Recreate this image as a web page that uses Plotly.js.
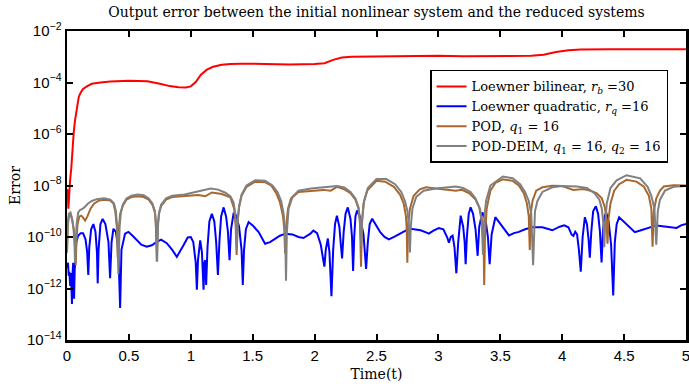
<!DOCTYPE html>
<html>
<head>
<meta charset="utf-8">
<script src="https://cdn.plot.ly/plotly-3.0.1.min.js"></script>
<style>html,body{margin:0;padding:0;background:#fff}#chart{width:689px;height:388px}</style>
</head>
<body>
<div id="chart"></div>
<script>
// Values; errors are stored as log10 exponents.
var redT = [0,0.006,0.011,0.016,0.025,0.035,0.045,0.055,0.065,0.08,0.095,0.11,0.13,0.16,0.2,0.27,0.35,0.5,0.65,0.75,0.83,0.9,0.96,1.0,1.04,1.08,1.13,1.18,1.25,1.32,1.4,1.6,1.8,2.0,2.08,2.15,2.22,2.3,2.6,2.9,3.0,3.2,3.5,3.75,3.85,3.95,4.05,4.15,4.4,4.7,5.0];
var redExp = [-8.15,-8.2,-8.9,-8.3,-7.8,-7.3,-6.5,-5.9,-5.46,-4.9,-4.56,-4.4,-4.25,-4.15,-4.05,-4.0,-3.96,-3.93,-3.95,-4.05,-4.14,-4.18,-4.19,-4.15,-3.98,-3.71,-3.5,-3.39,-3.31,-3.28,-3.27,-3.28,-3.3,-3.28,-3.25,-3.12,-3.03,-3.0,-2.98,-2.98,-2.96,-2.98,-2.97,-2.96,-2.92,-2.82,-2.75,-2.72,-2.71,-2.70,-2.71];

var blueT = [0,0.008,0.014,0.019,0.026,0.03,0.036,0.04,0.045,0.05,0.054,0.057,0.062,0.068,0.075,0.09,0.11,0.13,0.15,0.163,0.172,0.18,0.195,0.213,0.23,0.242,0.248,0.255,0.27,0.288,0.31,0.335,0.348,0.36,0.375,0.395,0.415,0.429,0.44,0.469,0.496,0.53,0.563,0.6,0.644,0.685,0.725,0.76,0.806,0.85,0.887,0.91,0.941,0.975,1.0,1.02,1.04,1.049,1.058,1.076,1.09,1.103,1.11,1.117,1.124,1.135,1.15,1.17,1.19,1.205,1.219,1.232,1.245,1.265,1.285,1.3,1.313,1.325,1.345,1.365,1.39,1.41,1.42,1.43,1.445,1.467,1.5,1.548,1.6,1.64,1.683,1.72,1.764,1.82,1.87,1.91,1.966,1.99,2.02,2.05,2.07,2.079,2.09,2.107,2.12,2.136,2.15,2.165,2.18,2.2,2.212,2.222,2.235,2.25,2.268,2.29,2.302,2.311,2.32,2.33,2.343,2.365,2.395,2.408,2.416,2.43,2.445,2.465,2.5,2.53,2.565,2.6,2.65,2.69,2.735,2.775,2.82,2.856,2.9,2.923,2.96,3.004,3.04,3.07,3.085,3.1,3.115,3.13,3.145,3.16,3.18,3.2,3.212,3.22,3.23,3.245,3.26,3.28,3.3,3.317,3.33,3.355,3.38,3.4,3.414,3.43,3.46,3.5,3.57,3.61,3.65,3.7,3.76,3.84,3.92,3.98,4.016,4.05,4.075,4.09,4.105,4.12,4.135,4.15,4.165,4.183,4.2,4.213,4.223,4.235,4.25,4.272,4.29,4.305,4.318,4.33,4.345,4.358,4.375,4.395,4.412,4.425,4.44,4.46,4.52,4.587,4.63,4.68,4.76,4.843,4.924,4.96,5.0];
var blueExp = [-11.2,-11.0,-11.5,-11.35,-11.9,-11.4,-12.0,-12.6,-11.4,-11.0,-11.6,-12.4,-11.3,-10.6,-10.2,-9.95,-9.85,-9.85,-10.1,-10.6,-11.47,-10.4,-9.7,-9.5,-9.8,-10.6,-11.8,-10.5,-9.5,-9.3,-9.5,-10.2,-11.6,-10.2,-9.68,-9.8,-10.5,-12.76,-10.5,-9.87,-9.8,-9.95,-10.13,-10.3,-10.38,-10.32,-10.19,-10.1,-10.24,-10.5,-10.77,-10.6,-10.32,-10.02,-10.0,-10.2,-11.0,-12.05,-10.9,-10.13,-10.6,-12.05,-11.0,-10.9,-11.86,-10.4,-9.4,-9.1,-9.4,-10.2,-11.47,-10.1,-9.2,-8.85,-9.2,-9.8,-10.9,-9.7,-9.1,-9.15,-9.6,-10.5,-11.86,-10.5,-9.7,-9.42,-9.55,-9.81,-10.26,-10.2,-10.06,-9.95,-9.87,-9.9,-10.0,-10.04,-9.87,-9.75,-9.85,-10.3,-10.9,-11.15,-10.5,-10.06,-10.6,-12.3,-10.5,-9.5,-9.17,-9.6,-10.3,-10.83,-9.8,-9.1,-8.85,-9.3,-10.0,-11.32,-10.0,-9.2,-8.97,-9.2,-9.9,-10.6,-11.24,-10.2,-9.5,-9.29,-9.55,-9.81,-10.0,-10.09,-9.98,-9.87,-9.75,-9.68,-9.7,-9.74,-9.82,-9.87,-9.75,-9.65,-9.7,-10.0,-10.22,-10.0,-9.95,-10.4,-11.41,-10.2,-9.17,-9.6,-10.2,-11.06,-10.0,-9.1,-8.85,-9.1,-9.7,-10.73,-9.6,-9.05,-9.3,-10.0,-11.06,-9.9,-9.23,-9.5,-9.94,-9.85,-9.8,-9.7,-9.62,-9.62,-9.74,-9.6,-9.55,-9.62,-9.9,-9.96,-9.8,-9.9,-10.5,-11.35,-10.0,-9.23,-9.5,-10.1,-10.8,-9.8,-9.0,-8.81,-9.1,-9.8,-10.99,-9.7,-9.15,-9.1,-9.4,-10.3,-12.27,-10.2,-9.5,-9.23,-9.5,-9.81,-9.75,-9.68,-9.55,-9.6,-9.65,-9.55,-9.49];

var podT = [0,0.006,0.015,0.028,0.042,0.055,0.063,0.07,0.076,0.085,0.1,0.115,0.13,0.146,0.165,0.19,0.22,0.26,0.3,0.35,0.375,0.39,0.402,0.41,0.42,0.43,0.45,0.48,0.52,0.57,0.62,0.66,0.69,0.71,0.718,0.725,0.732,0.742,0.76,0.8,0.85,0.95,1.06,1.117,1.17,1.25,1.32,1.35,1.362,1.37,1.378,1.39,1.41,1.45,1.52,1.6,1.65,1.69,1.72,1.745,1.755,1.762,1.77,1.785,1.81,1.87,1.97,2.07,2.13,2.18,2.24,2.29,2.33,2.355,2.367,2.375,2.383,2.395,2.425,2.5,2.57,2.64,2.69,2.72,2.738,2.744,2.749,2.755,2.77,2.8,2.85,2.9,2.98,3.085,3.14,3.19,3.25,3.3,3.335,3.355,3.365,3.37,3.376,3.39,3.42,3.46,3.52,3.6,3.65,3.69,3.715,3.73,3.738,3.746,3.76,3.79,3.84,3.92,4.0,4.09,4.17,4.23,4.28,4.32,4.345,4.358,4.366,4.374,4.39,4.42,4.46,4.52,4.6,4.66,4.7,4.72,4.73,4.74,4.76,4.79,4.82,4.9,5.0];
var podExp = [-10.6,-9.6,-9.2,-9.1,-9.35,-9.7,-10.2,-11.1,-10.2,-9.5,-9.2,-9.17,-9.25,-9.36,-9.2,-8.9,-8.7,-8.58,-8.55,-8.58,-8.7,-9.0,-9.6,-10.8,-9.6,-9.1,-8.8,-8.55,-8.45,-8.42,-8.45,-8.55,-8.75,-9.05,-9.6,-10.95,-9.6,-9.1,-8.8,-8.55,-8.45,-8.42,-8.37,-8.42,-8.27,-8.33,-8.46,-8.9,-9.5,-10.7,-9.4,-8.85,-8.4,-8.05,-7.85,-7.87,-8.0,-8.3,-8.65,-9.2,-9.7,-10.64,-9.6,-8.9,-8.5,-8.25,-8.2,-8.17,-8.2,-8.05,-8.15,-8.3,-8.55,-8.9,-9.5,-11.15,-9.4,-8.7,-8.2,-7.82,-7.85,-8.05,-8.35,-8.7,-9.2,-9.7,-11.0,-9.6,-8.9,-8.4,-8.15,-8.07,-8.12,-8.17,-8.2,-8.17,-8.3,-8.55,-8.9,-9.4,-10.2,-11.86,-10.0,-8.9,-8.2,-7.9,-7.76,-7.82,-8.0,-8.3,-8.7,-9.2,-10.5,-9.1,-8.6,-8.2,-8.07,-8.01,-8.02,-8.17,-8.14,-8.2,-8.3,-8.5,-8.85,-9.4,-10.26,-9.3,-8.7,-8.2,-7.95,-7.78,-7.85,-8.05,-8.4,-8.9,-10.38,-9.0,-8.5,-8.2,-8.04,-7.99,-8.0];

var deimT = [0,0.006,0.015,0.028,0.042,0.053,0.06,0.065,0.07,0.078,0.09,0.105,0.12,0.14,0.17,0.2,0.24,0.3,0.35,0.38,0.395,0.405,0.415,0.425,0.435,0.45,0.48,0.52,0.57,0.62,0.66,0.69,0.71,0.72,0.728,0.736,0.745,0.76,0.8,0.85,0.95,1.06,1.16,1.22,1.28,1.32,1.345,1.36,1.372,1.38,1.39,1.41,1.45,1.52,1.6,1.66,1.7,1.73,1.75,1.762,1.769,1.776,1.79,1.82,1.87,1.97,2.07,2.18,2.24,2.29,2.33,2.355,2.368,2.376,2.385,2.4,2.43,2.5,2.58,2.65,2.7,2.73,2.75,2.763,2.77,2.777,2.79,2.82,2.88,2.98,3.08,3.14,3.2,3.26,3.3,3.33,3.35,3.36,3.37,3.385,3.42,3.52,3.6,3.66,3.7,3.73,3.75,3.765,3.78,3.8,3.84,3.92,4.0,4.12,4.2,4.26,4.3,4.32,4.333,4.34,4.348,4.36,4.39,4.44,4.52,4.63,4.69,4.72,4.745,4.76,4.772,4.79,4.83,4.9,5.0];
var deimExp = [-10.6,-9.5,-9.1,-9.05,-9.3,-9.7,-10.2,-11.0,-10.2,-9.5,-9.05,-8.95,-8.92,-8.85,-8.7,-8.6,-8.53,-8.5,-8.55,-8.7,-9.0,-9.6,-11.45,-9.6,-9.05,-8.75,-8.5,-8.4,-8.35,-8.38,-8.5,-8.7,-9.0,-9.5,-10.95,-9.5,-9.05,-8.75,-8.5,-8.4,-8.35,-8.22,-8.12,-8.16,-8.28,-8.42,-8.65,-9.1,-10.5,-9.3,-8.8,-8.35,-8.0,-7.8,-7.82,-8.0,-8.25,-8.6,-9.1,-9.8,-11.7,-9.8,-8.9,-8.45,-8.2,-8.12,-8.08,-8.02,-8.08,-8.25,-8.5,-8.85,-9.4,-10.35,-9.3,-8.6,-8.1,-7.75,-7.75,-7.95,-8.25,-8.6,-9.0,-9.6,-10.6,-9.6,-8.9,-8.45,-8.2,-8.12,-8.07,-8.04,-8.1,-8.25,-8.5,-8.85,-9.4,-10.7,-9.3,-8.6,-8.0,-7.65,-7.72,-7.95,-8.25,-8.6,-9.1,-11.1,-9.0,-8.6,-8.25,-8.07,-8.02,-8.04,-8.1,-8.3,-8.55,-8.9,-9.5,-10.4,-9.4,-8.7,-8.1,-7.8,-7.6,-7.72,-8.05,-8.4,-8.9,-10.3,-9.0,-8.55,-8.2,-8.05,-8.02];

var seriesNames = [
  'Loewner bilinear, <i>r</i><sub><i>b</i></sub> =30',
  'Loewner quadratic, <i>r</i><sub><i>q</i></sub> =16',
  'POD, <i>q</i><sub>1</sub> = 16',
  'POD-DEIM, <i>q</i><sub>1</sub> = 16, <i>q</i><sub>2</sub> = 16'
];
var seriesColors = ['#ff0000', '#0000ff', '#a8672c', '#808080'];

var xTickVals = [0,0.5,1,1.5,2,2.5,3,3.5,4,4.5,5];
var yTickExp = [-14,-12,-10,-8,-6,-4,-2];

function toVal(a){ return a.map(function(e){ return Math.pow(10, e); }); }

var serif = 'DejaVu Serif, serif';
var sans = 'Liberation Sans, Arial, sans-serif';

function tr(x, e, i){
  return {x: x, y: toVal(e), type: 'scatter', mode: 'lines', name: seriesNames[i],
          line: {color: seriesColors[i], width: 2}};
}
// plotting order as in the original: red, blue, POD, POD-DEIM (on top)
var data = [tr(redT, redExp, 0), tr(blueT, blueExp, 1), tr(podT, podExp, 2), tr(deimT, deimExp, 3)];

var layout = {
  width: 689, height: 388,
  margin: {l: 67, r: 3, t: 31, b: 48},
  paper_bgcolor: '#fff', plot_bgcolor: '#fff',
  showlegend: true,
  title: {text: 'Output error between the initial nonlinear system and the reduced systems',
          font: {family: serif, size: 14, color: '#000'},
          x: 0.5, xref: 'paper', y: 0.968, yref: 'container', yanchor: 'middle'},
  xaxis: {
    range: [0, 5], tickvals: xTickVals, ticktext: xTickVals.map(String),
    ticklabeloverflow: 'allow',
    showgrid: false, zeroline: false, showline: true, linecolor: '#000', linewidth: 2.5,
    mirror: 'ticks', ticks: 'inside', ticklen: 6, tickwidth: 2, tickcolor: '#000',
    tickfont: {family: sans, size: 15, color: '#000'},
    title: {text: 'Time(t)', font: {family: serif, size: 14, color: '#000'}, standoff: 7}
  },
  yaxis: {
    type: 'log', range: [-14, -2],
    tickvals: toVal(yTickExp),
    ticktext: yTickExp.map(function(e){ return '10<sup>\u2212' + Math.abs(e) + '</sup>'; }),
    showgrid: false, zeroline: false, showline: true, linecolor: '#000', linewidth: 2.5,
    mirror: 'ticks', ticks: 'inside', ticklen: 6, tickwidth: 2, tickcolor: '#000',
    tickfont: {family: sans, size: 15, color: '#000'},
    title: {text: 'Error', font: {family: serif, size: 14, color: '#000'}, standoff: 3}
  },
  legend: {
    x: 0.971, y: 0.874, xanchor: 'right', yanchor: 'top',
    bgcolor: '#fff', bordercolor: '#000', borderwidth: 1.5,
    font: {family: serif, size: 13, color: '#000'},
    tracegroupgap: 0, itemwidth: 30
  }
};

Plotly.newPlot('chart', data, layout, {staticPlot: true, displayModeBar: false});
</script>
</body>
</html>
